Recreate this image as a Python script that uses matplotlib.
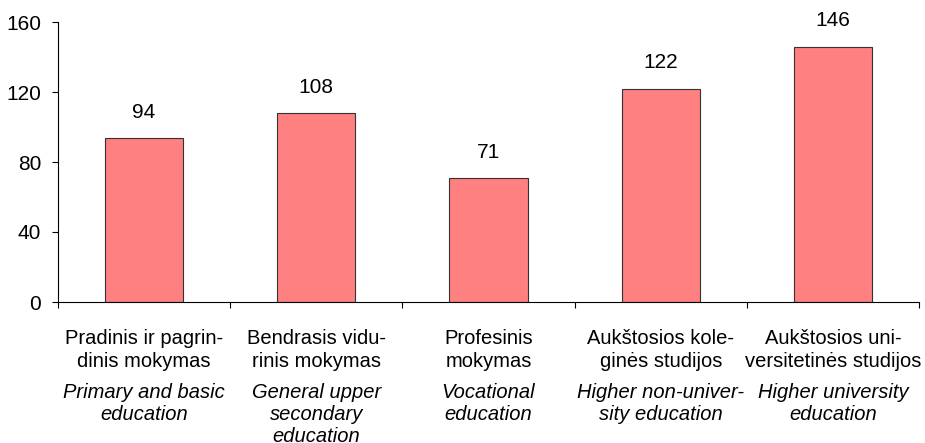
# Education level bar chart
import numpy as np
import matplotlib.pyplot as plt
from matplotlib.ticker import FixedLocator

plt.rcParams['font.family'] = ['Liberation Sans', 'DejaVu Sans']

# Data
values = [94, 108, 71, 122, 146]
labels_lt = ['Pradinis ir pagrin-\ndinis mokymas',
             'Bendrasis vidu-\nrinis mokymas',
             'Profesinis\nmokymas',
             'Aukštosios kole-\nginės studijos',
             'Aukštosios uni-\nversitetinės studijos']
labels_en = ['Primary and basic\neducation',
             'General upper\nsecondary\neducation',
             'Vocational\neducation',
             'Higher non-univer-\nsity education',
             'Higher university\neducation']
y_ticks = [0, 40, 80, 120, 160]

fig = plt.figure(figsize=(9.25, 4.43), dpi=100)
ax = fig.add_axes([58/925, 1 - 302/443, (919-58)/925, 280/443])

x = np.arange(len(values))
ax.bar(x, values, width=0.455, color='#FF8080', edgecolor='#333333', linewidth=0.8)

# value labels above bars
for i, v in enumerate(values):
    ax.annotate(str(v), xy=(i, v), xytext=(0, 16), textcoords='offset pixels',
                ha='center', va='bottom', fontsize=15)

# category labels below the axis
for i in range(len(values)):
    ax.annotate(labels_lt[i], xy=(i, 0), xycoords=('data', 'axes fraction'),
                xytext=(0, -27), textcoords='offset pixels',
                ha='center', va='top', fontsize=14.5, linespacing=1.27)
    ax.annotate(labels_en[i], xy=(i, 0), xycoords=('data', 'axes fraction'),
                xytext=(0, -81), textcoords='offset pixels',
                ha='center', va='top', fontsize=14.5, style='italic', linespacing=1.2,
                annotation_clip=False)

ax.set_xlim(-0.5, len(values) - 0.5)
ax.set_ylim(0, 160)
ax.set_yticks(y_ticks)
ax.tick_params(axis='y', labelsize=15, length=4, width=0.8, pad=8)
ax.xaxis.set_major_locator(FixedLocator(np.arange(-0.5, len(values), 1.0)))
ax.set_xticklabels([])
ax.tick_params(axis='x', length=4, width=0.8)

ax.spines['top'].set_visible(False)
ax.spines['right'].set_visible(False)
ax.spines['left'].set_linewidth(0.8)
ax.spines['bottom'].set_linewidth(0.8)

plt.savefig('out.png', dpi=100)
